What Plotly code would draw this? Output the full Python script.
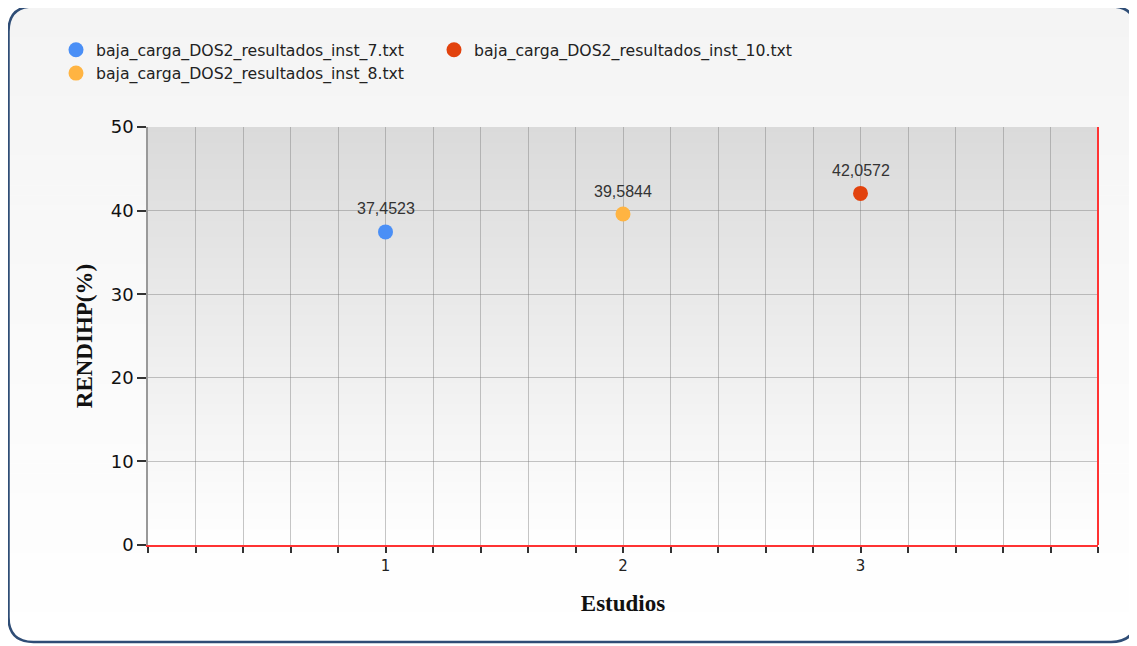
import math
import plotly.graph_objects as go

# ---- data ----
series_names = [
    "baja_carga_DOS2_resultados_inst_7.txt",
    "baja_carga_DOS2_resultados_inst_8.txt",
    "baja_carga_DOS2_resultados_inst_10.txt",
]
estudios = [1, 2, 3]
rendihp = [37.4523, 39.5844, 42.0572]
colors = ["#4a8ff6", "#ffb442", "#e2420d"]
legend_ids = ["legend", "legend", "legend2"]

x_tick_vals = [round(i * 0.2, 1) for i in range(21)]
x_tick_text = ["1" if v == 1 else "2" if v == 2 else "3" if v == 3 else "" for v in x_tick_vals]
y_tick_vals = [0, 10, 20, 30, 40, 50]

# page body adds an 8px offset; geometry below is in screen pixels
OFF = 8
W, H = 1137 - OFF, 646 - OFF
PL, PR, PT, PB = 148, 1098, 127, 545   # plot area in screen pixels
ML, MT = PL - OFF, PT - OFF
MR, MB = W - (PR - OFF), H - (PB - OFF)
PW, PH = PR - PL, PB - PT


def px(xs):
    return (xs - PL) / PW


def py(ys):
    return (PB - ys) / PH


def lerp_color(c0, c1, t):
    a = [int(c0[i:i + 2], 16) for i in (1, 3, 5)]
    b = [int(c1[i:i + 2], 16) for i in (1, 3, 5)]
    return "#" + "".join(f"{round(a[k] + (b[k] - a[k]) * t):02x}" for k in range(3))


fig = go.Figure()

annotations = []
for name, xv, yv, col, lg in zip(series_names, estudios, rendihp, colors, legend_ids):
    fig.add_trace(go.Scatter(
        x=[xv], y=[yv], mode="markers", name=name,
        marker=dict(size=15, color=col),
        legend=lg, legendgroup=name, cliponaxis=False,
    ))
    annotations.append(dict(
        x=xv, y=yv, xref="x", yref="y", text=f"{yv:.4f}".replace(".", ","),
        showarrow=False, yanchor="middle", xanchor="center", yshift=23,
        font=dict(family="Liberation Sans, Arial", size=16, color="#333333"),
    ))

shapes = []

# ---- outer rounded panel ----
L, R, T, B, RAD = 8.5, 1136, 6.5, 642, 25


def inset_x(y):
    dx = 0.0
    if y < T + RAD:
        d = T + RAD - y
        dx = RAD - math.sqrt(max(RAD * RAD - d * d, 0))
    elif y > B - RAD:
        d = y - (B - RAD)
        dx = RAD - math.sqrt(max(RAD * RAD - d * d, 0))
    return L + dx, R - dx


NB = 64
for i in range(NB):
    ya = T + (B - T) * i / NB
    yb = min(T + (B - T) * (i + 1) / NB + 0.6, B)
    samples = [ya + (yb - ya) * k / 4 for k in range(5)]
    pts = [(inset_x(s)[0], s) for s in samples] + [(inset_x(s)[1], s) for s in reversed(samples)]
    path = "M " + " L ".join(f"{px(a):.5f},{py(b):.5f}" for a, b in pts) + " Z"
    col = lerp_color("#f4f4f4", "#ffffff", (i + 0.5) / NB)
    shapes.append(dict(type="path", path=path, xref="paper", yref="paper",
                       fillcolor=col, line=dict(width=0), layer="below"))

border = (
    f"M {px(L + RAD)},{py(T)} L {px(R - RAD)},{py(T)} "
    f"Q {px(R)},{py(T)} {px(R)},{py(T + RAD)} "
    f"L {px(R)},{py(B - RAD)} Q {px(R)},{py(B)} {px(R - RAD)},{py(B)} "
    f"L {px(L + RAD)},{py(B)} Q {px(L)},{py(B)} {px(L)},{py(B - RAD)} "
    f"L {px(L)},{py(T + RAD)} Q {px(L)},{py(T)} {px(L + RAD)},{py(T)} Z"
)
shapes.append(dict(type="path", path=border, xref="paper", yref="paper",
                   fillcolor="rgba(0,0,0,0)", line=dict(color="#2f4d76", width=2.5),
                   layer="below"))

# plot-area gradient
NP = 80
for i in range(NP):
    y0 = 1 - i / NP
    y1 = 1 - (i + 1) / NP - 0.002
    col = lerp_color("#dadada", "#ffffff", (i + 0.5) / NP)
    shapes.append(dict(type="rect", xref="x domain", yref="y domain",
                       x0=0, x1=1, y0=max(y1, 0), y1=y0,
                       fillcolor=col, line=dict(width=0), layer="below"))

# right red frame line
shapes.append(dict(type="line", xref="x domain", yref="y domain",
                   x0=1, x1=1, y0=0, y1=1, line=dict(color="#ff3333", width=2),
                   layer="above"))

legend_font = dict(family="DejaVu Sans", size=15.7, color="#222222")

fig.update_layout(
    width=W, height=H,
    margin=dict(l=ML, r=MR, t=MT, b=MB, pad=0),
    paper_bgcolor="#ffffff",
    plot_bgcolor="rgba(0,0,0,0)",
    shapes=shapes,
    annotations=annotations,
    showlegend=True,
    legend=dict(x=px(56), y=py(33), xanchor="left", yanchor="top",
                orientation="v", bgcolor="rgba(0,0,0,0)", font=legend_font,
                tracegroupgap=0, itemclick=False),
    legend2=dict(x=px(434), y=py(33), xanchor="left", yanchor="top",
                 orientation="v", bgcolor="rgba(0,0,0,0)", font=legend_font,
                 tracegroupgap=0, itemclick=False),
    xaxis=dict(
        range=[0, 4], tickmode="array", tickvals=x_tick_vals, ticktext=x_tick_text,
        showgrid=True, gridcolor="rgba(120,120,120,0.42)", gridwidth=1,
        zeroline=False, showline=True, linecolor="#ff3333", linewidth=2,
        ticks="outside", ticklen=6, tickwidth=1.5, tickcolor="#333333",
        tickfont=dict(family="DejaVu Sans", size=15, color="#222222"),
        title=dict(text="<b>Estudios</b>", standoff=21,
                   font=dict(family="Liberation Serif, Times New Roman", size=23, color="#111111")),
        fixedrange=True,
    ),
    yaxis=dict(
        range=[0, 50], tickmode="array", tickvals=y_tick_vals,
        showgrid=True, gridcolor="rgba(120,120,120,0.42)", gridwidth=1,
        zeroline=False, showline=True, linecolor="#999999", linewidth=1.5,
        ticks="outside", ticklen=9, tickwidth=1.5, tickcolor="#333333",
        tickfont=dict(family="DejaVu Sans", size=18, color="#111111"),
        title=dict(text="<b>RENDIHP(%)</b>", standoff=12,
                   font=dict(family="Liberation Serif, Times New Roman", size=23, color="#111111")),
        fixedrange=True,
    ),
)

fig.write_html("out.html")
